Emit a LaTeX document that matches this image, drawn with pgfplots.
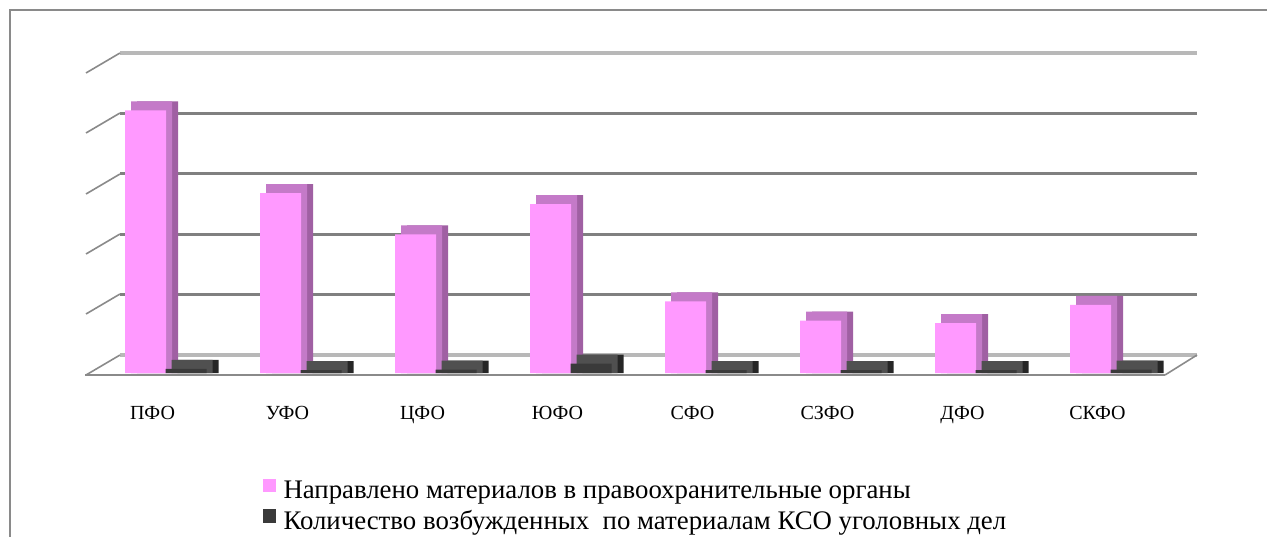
\documentclass[border=0pt]{standalone}
\usepackage{pgfplots}
\pgfplotsset{compat=1.18}
\usepackage{pgfplotstable}
\usepackage{fontspec}
\setmainfont{Liberation Serif}

\definecolor{pinkfront}{HTML}{FF99FF}
\definecolor{pinkside}{HTML}{A060A3}
\definecolor{pinktop}{HTML}{C47AC8}
\definecolor{darkfront}{HTML}{3A3A3A}
\definecolor{darkside}{HTML}{262626}
\definecolor{darktop}{HTML}{505050}
\definecolor{gridgray}{HTML}{808080}
\definecolor{floorgray}{HTML}{B8B8B8}
\definecolor{framegray}{HTML}{8A8A8A}

% направлено материалов / возбуждено дел (условная шкала)
\pgfplotstableread{
x name  sent  cases
0 PFO   435   7
1 UFO   298   5
2 CFO   230   6
3 YuFO  280   16
4 SFO   119   5
5 SZFO  87    5
6 DFO   83    5
7 SKFO  113   6
}\datatable

% глубина псевдо-3D в единицах оси (4.5pt)
\def\depth{14.9}

\begin{document}
\begin{tikzpicture}
\fontsize{10}{12}\selectfont
\path[use as bounding box] (0,0) rectangle (633.5pt,268pt);
% рамка
\draw[framegray, line width=0.6pt] (5pt,-5pt) -- (5pt,263pt) -- (640pt,263pt);

% задняя стенка с сеткой
\begin{axis}[
    at={(60pt,90.5pt)}, anchor=south west,
    scale only axis, width=538.5pt, height=151pt,
    xmin=0, xmax=1, ymin=0, ymax=500,
    axis line style={draw=none},
    xtick=\empty,
    ytick={100,200,300,400}, yticklabels={},
    major tick length=0pt,
    ymajorgrids,
    grid style={gridgray, line width=1.4pt},
    extra y ticks={0,500}, extra y tick labels={},
    extra y tick style={grid style={floorgray, line width=2.4pt}},
]
\end{axis}

% боковые наклонные линии
\foreach \y in {53,113,174,234,294,355}{
  \draw[floorgray!75!black, line width=0.8pt] (43pt,{(536-\y-20)/2*1pt}) -- (60pt,{(536-\y)/2*1pt});
}
\draw[floorgray!75!black, line width=0.8pt] (582.5pt,80.5pt) -- (598.5pt,90.5pt);

% столбцы
\begin{axis}[
    at={(42.5pt,80.5pt)}, anchor=south west,
    scale only axis, width=540pt, height=151.9pt,
    xmin=-0.5, xmax=7.5, ymin=-3, ymax=500,
    ybar, bar width=20.5pt,
    axis x line*=bottom, axis y line=none,
    x axis line style={framegray, line width=1.1pt, -},
    xtick={0,...,7},
    xticklabels={ПФО,УФО,ЦФО,ЮФО,СФО,СЗФО,ДФО,СКФО},
    major x tick style={draw=none},
    xticklabel style={yshift=-8pt, font=\fontsize{10}{12}\selectfont},
    extra x ticks={-0.5,0.5,...,7.5}, extra x tick labels={},
    extra x tick style={tick style={framegray, line width=0.7pt}, major tick length=4pt, tick align=outside},
    legend style={at={(0.164,-0.333)}, anchor=north west, draw=none, fill=none,
        font=\fontsize{13.4}{16}\selectfont, row sep=0.5pt, inner sep=0pt},
    legend cell align=left,
    legend image code/.code={\fill[#1, draw=none] (0pt,-0.8pt) rectangle (6.8pt,6pt); \path (8.5pt,0pt);},
]
% розовые: бок, верх, фронт
\addplot[fill=pinkside, draw=none, bar shift=2.5pt, forget plot] table[x=x, y expr=\thisrow{sent}+\depth] {\datatable};
\addplot[fill=pinktop, draw=none, bar shift=-0.5pt, forget plot] table[x=x, y expr=\thisrow{sent}+\depth] {\datatable};
\addplot[fill=pinkfront, draw=none, bar shift=-3.5pt] table[x=x, y=sent] {\datatable};
\addlegendentry{Направлено материалов в правоохранительные органы}
% тёмные: бок, верх, фронт
\addplot[fill=darkside, draw=none, bar shift=22.75pt, forget plot] table[x=x, y expr=\thisrow{cases}+\depth] {\datatable};
\addplot[fill=darktop, draw=none, bar shift=19.75pt, forget plot] table[x=x, y expr=\thisrow{cases}+\depth] {\datatable};
\addplot[fill=darkfront, draw=none, bar shift=16.75pt] table[x=x, y=cases] {\datatable};
\addlegendentry{Количество возбужденных\ \ по материалам КСО уголовных дел}
\end{axis}
\end{tikzpicture}
\end{document}
